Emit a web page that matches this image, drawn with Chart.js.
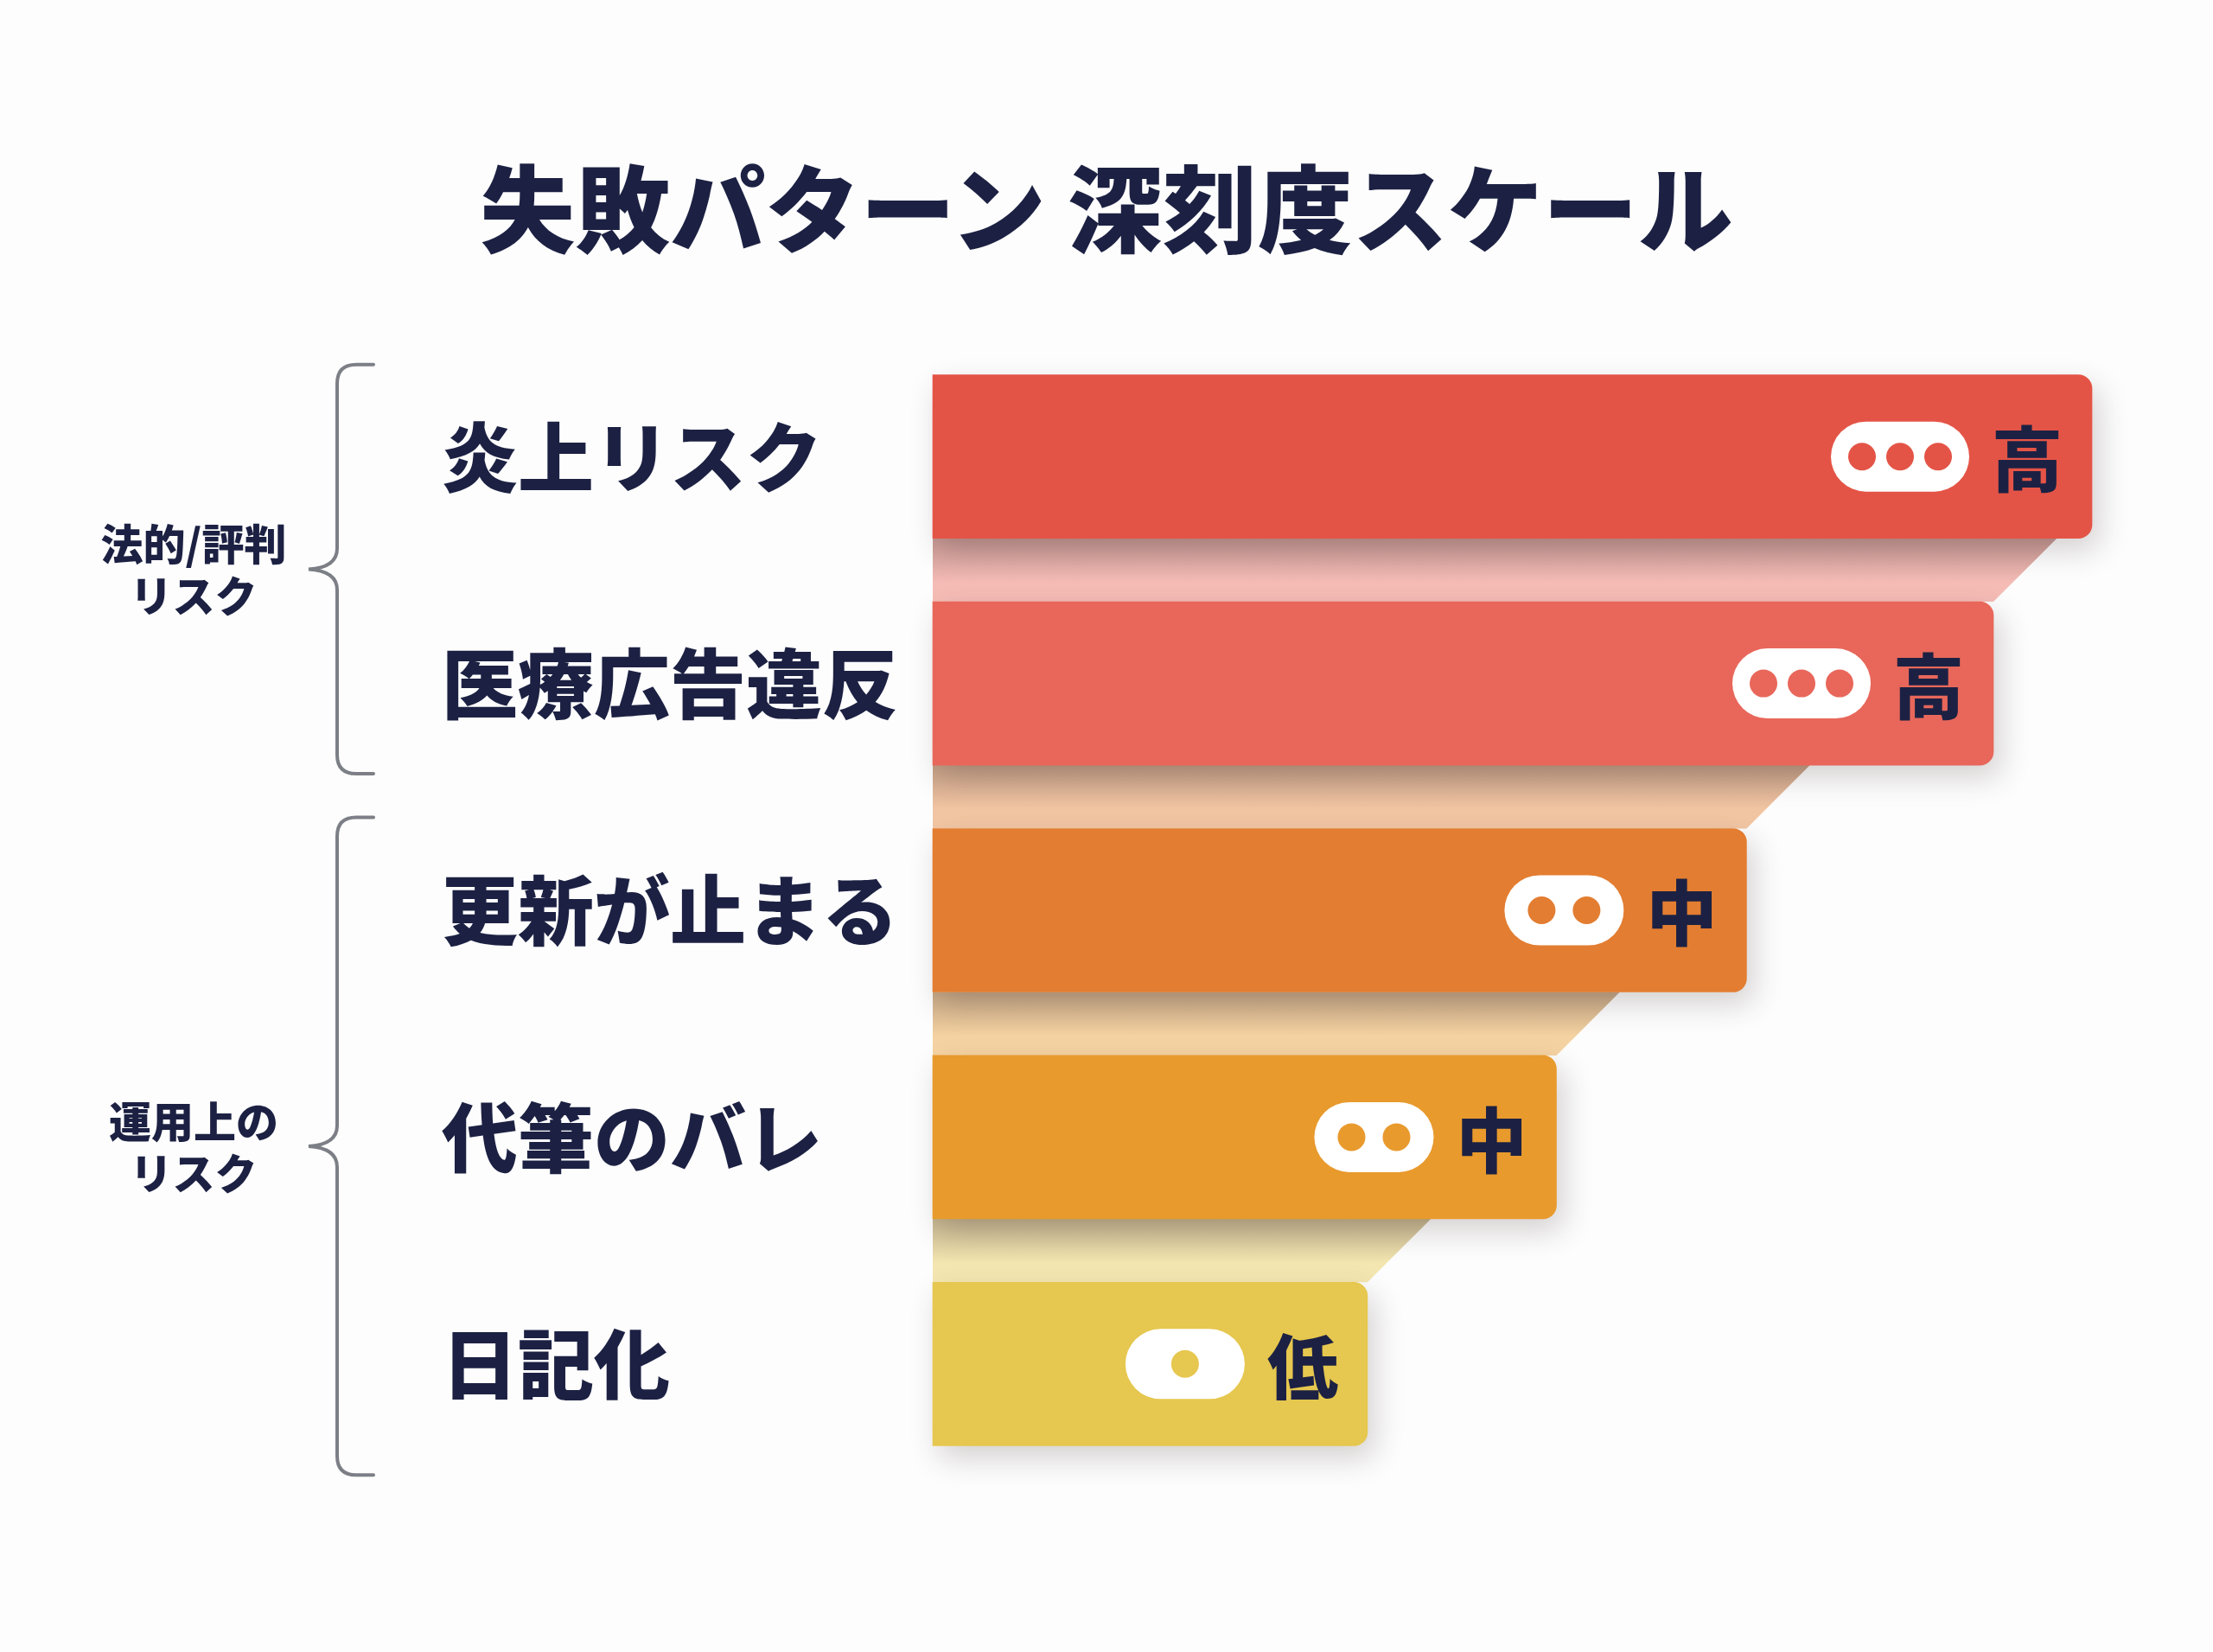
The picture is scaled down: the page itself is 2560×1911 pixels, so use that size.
<!DOCTYPE html>
<html lang="ja">
<head>
<meta charset="utf-8">
<title>失敗パターン 深刻度スケール</title>
<script src="https://cdn.jsdelivr.net/npm/chart.js@4.4.1/dist/chart.umd.min.js"></script>
<style>
  html, body { margin: 0; padding: 0; background: #fdfdfd; }
  #wrap { position: relative; width: 2560px; height: 1911px; }
  #severityChart { position: absolute; left: 0; top: 0; }
  #title {
    position: absolute; left: 0; top: 181px; width: 2560px;
    text-align: center; color: #1c2143;
    font: 900 110px/110px "Noto Sans CJK JP", sans-serif;
  }
</style>
</head>
<body>
<div id="wrap">
  <canvas id="severityChart" width="2560" height="1911"></canvas>
  <div id="title">失敗パターン 深刻度スケール</div>
</div>
<script>
const FONT = '"Noto Sans CJK JP", sans-serif';
const INK = "#1c2143";

/* ===============================
   DATA
   =============================== */
const categories = ["炎上リスク", "医療広告違反", "更新が止まる", "代筆のバレ", "日記化"];
const severityScores = [100, 91.5, 70.2, 53.8, 37.5];
const severityLabels = ["高", "高", "中", "中", "低"];
const severityDots = [3, 3, 2, 2, 1];
const barColors = ["#e45446", "#e8675a", "#e37d31", "#e89a2d", "#e6c74f"];

const groupNames = [["法的/評判", "リスク"], ["運用上の", "リスク"]];
const groupFirst = [0, 2];
const groupLast = [1, 4];

/* ===============================
   COLOUR HELPERS
   =============================== */
function hexToRgb(hex) {
  const n = parseInt(hex.slice(1), 16);
  return [(n >> 16) & 255, (n >> 8) & 255, n & 255];
}
function mix(a, b, t) {
  const c1 = hexToRgb(a), c2 = hexToRgb(b);
  const c = c1.map((v, i) => Math.round(v * (1 - t) + c2[i] * t));
  return "#" + c.map(v => v.toString(16).padStart(2, "0")).join("");
}

/* ===============================
   BRACE
   =============================== */
function drawBrace(ctx, x, top, bottom) {
  const mid = (top + bottom) / 2;
  const r = 22;
  ctx.beginPath();
  ctx.moveTo(x + 42, top);
  ctx.lineTo(x + r, top);
  ctx.quadraticCurveTo(x, top, x, top + r);
  ctx.lineTo(x, mid - 24);
  ctx.quadraticCurveTo(x, mid - 2, x - 33, mid);
  ctx.quadraticCurveTo(x, mid + 2, x, mid + 24);
  ctx.lineTo(x, bottom - r);
  ctx.quadraticCurveTo(x, bottom, x + r, bottom);
  ctx.lineTo(x + 42, bottom);
  ctx.stroke();
  return mid;
}

/* ===============================
   DECORATION PLUGIN
   =============================== */
const riskDecor = {
  id: "riskDecor",

  beforeDatasetsDraw(chart) {
    const ctx = chart.ctx;
    const bars = chart.getDatasetMeta(0).data;

    // folded strips between bars
    for (let i = 0; i < bars.length - 1; i++) {
      const a = bars[i], b = bars[i + 1];
      const top = a.y + a.height / 2;
      const bottom = b.y - b.height / 2;
      const gap = bottom - top;
      const light = mix(barColors[i + 1], "#ffffff", 0.55);
      const g = ctx.createLinearGradient(0, top, 0, bottom);
      g.addColorStop(0, mix(light, "#4a3a3a", 0.3));
      g.addColorStop(0.7, light);
      g.addColorStop(1, light);
      ctx.fillStyle = g;
      ctx.beginPath();
      ctx.moveTo(a.base, top);
      ctx.lineTo(b.x + gap, top);
      ctx.lineTo(b.x, bottom);
      ctx.lineTo(a.base, bottom);
      ctx.closePath();
      ctx.fill();
    }

    // group braces + labels
    const pads = [[12, 10], [13, 34]];
    ctx.save();
    ctx.strokeStyle = "#7c7f86";
    ctx.lineWidth = 4;
    ctx.lineCap = "round";
    groupNames.forEach((lines, g) => {
      const first = bars[groupFirst[g]], last = bars[groupLast[g]];
      const top = first.y - first.height / 2 - pads[g][0];
      const bottom = last.y + last.height / 2 + pads[g][1];
      const mid = drawBrace(ctx, 390, top, bottom);
      ctx.fillStyle = INK;
      ctx.font = `900 49px ${FONT}`;
      ctx.textAlign = "center";
      ctx.textBaseline = "middle";
      ctx.fillText(lines[0], 224, mid - 29);
      ctx.fillText(lines[1], 224, mid + 31);
    });
    ctx.restore();

    // soft drop shadow for the bars
    ctx.save();
    ctx.shadowColor = "rgba(70, 50, 50, 0.22)";
    ctx.shadowBlur = 34;
    ctx.shadowOffsetX = 8;
    ctx.shadowOffsetY = 14;
  },

  afterDatasetsDraw(chart) {
    const ctx = chart.ctx;
    ctx.restore();

    const bars = chart.getDatasetMeta(0).data;
    bars.forEach((bar, i) => {
      const cy = bar.y, end = bar.x;

      ctx.fillStyle = INK;
      ctx.font = `900 82px ${FONT}`;
      ctx.textAlign = "right";
      ctx.textBaseline = "middle";
      ctx.fillText(severityLabels[i], end - 34, cy + 3);

      const n = severityDots[i];
      const w = n === 3 ? 160 : 138;
      const h = 81;
      const left = end - 142 - w;
      ctx.fillStyle = "#ffffff";
      ctx.beginPath();
      ctx.roundRect(left, cy - h / 2, w, h, h / 2);
      ctx.fill();

      const step = n === 3 ? 44 : 52;
      const cx = left + w / 2;
      ctx.fillStyle = barColors[i];
      for (let k = 0; k < n; k++) {
        ctx.beginPath();
        ctx.arc(cx + (k - (n - 1) / 2) * step, cy, 16, 0, Math.PI * 2);
        ctx.fill();
      }
    });
  }
};

/* ===============================
   CHART
   =============================== */
new Chart(document.getElementById("severityChart"), {
  type: "bar",
  data: {
    labels: categories,
    datasets: [{
      data: severityScores,
      backgroundColor: barColors,
      barThickness: 189,
      borderRadius: 16,
      borderSkipped: "start",
      clip: false
    }]
  },
  options: {
    indexAxis: "y",
    responsive: false,
    animation: false,
    devicePixelRatio: 1,
    layout: { padding: { left: 511, right: 140, top: 397, bottom: 202 } },
    plugins: {
      legend: { display: false },
      tooltip: { enabled: false }
    },
    scales: {
      x: { min: 0, max: 100, display: false },
      y: {
        grid: { display: false, drawTicks: false },
        border: { display: false },
        ticks: {
          crossAlign: "far",
          autoSkip: false,
          padding: 0,
          color: INK,
          font: { family: FONT, size: 88, weight: "900" }
        },
        afterFit: s => { s.width = 568; }
      }
    }
  },
  plugins: [riskDecor]
});
</script>
</body>
</html>
